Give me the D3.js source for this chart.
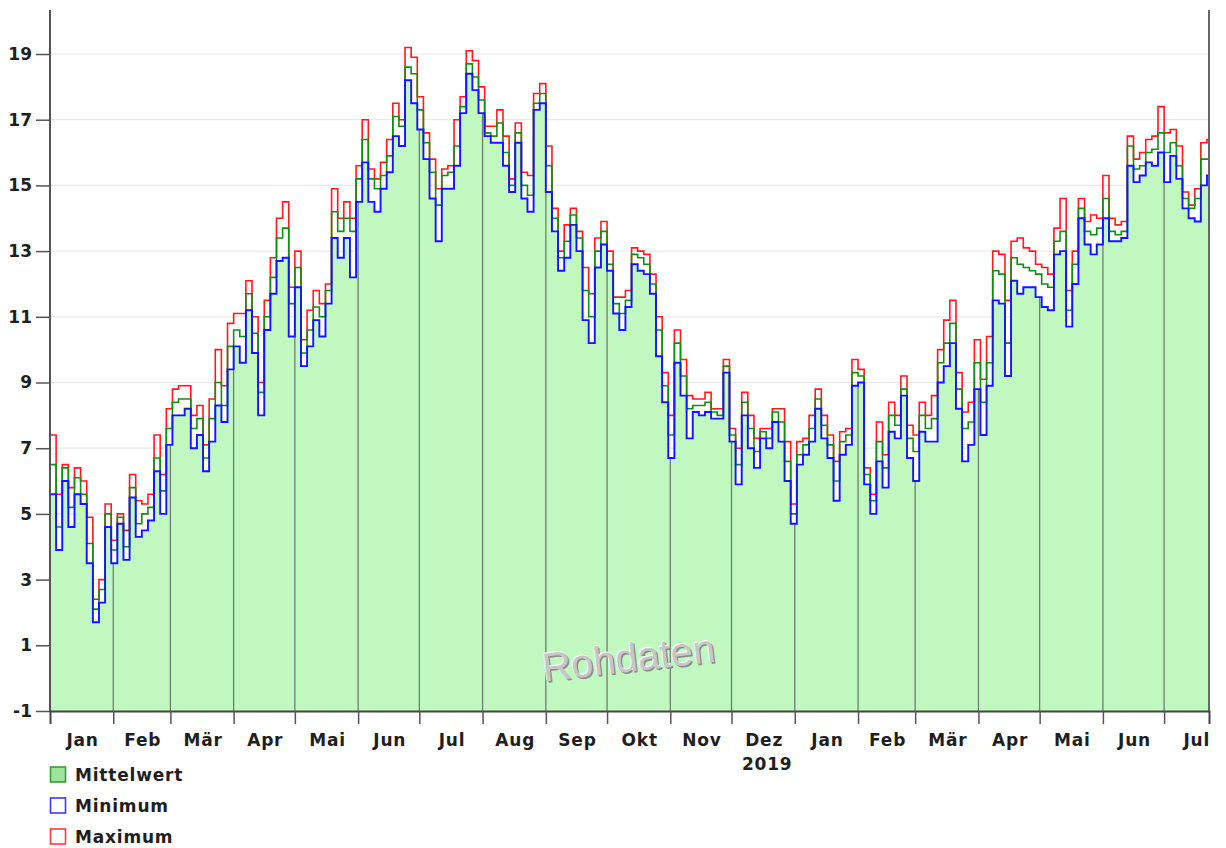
<!DOCTYPE html>
<html><head><meta charset="utf-8">
<script src="https://cdn.jsdelivr.net/npm/d3@7"></script>
<style>
html,body{margin:0;padding:0;background:#fff;}
svg{display:block;}
text{font-family:"DejaVu Sans",Verdana,sans-serif;font-weight:bold;fill:#1e1e1e;}
</style></head>
<body>
<svg id="chart" width="1226" height="848"></svg>
<script>
// ---- data (3-day steps starting 2018-01-01) ----
const startDate = "2018-01-01";
const endDate = "2019-07-23";
const stepDays = 3;
const meanVals = [
6.5,4.6,6.4,5.2,6.1,5.6,4.1,2.1,2.7,5.0,
3.9,4.9,4.0,5.8,4.7,5.0,5.2,6.7,5.7,7.6,
8.4,8.5,8.5,7.6,7.9,6.7,7.9,9.0,8.3,10.1,
10.6,10.4,11.7,10.5,8.7,11.0,12.2,13.4,13.7,11.4,
12.5,9.9,10.6,11.3,11.0,11.8,14.2,13.6,14.0,13.6,
15.2,16.4,15.2,14.9,15.3,15.9,17.1,16.8,18.6,18.4,
17.3,16.3,15.4,14.4,15.3,15.4,16.2,17.4,18.7,18.3,
17.6,16.6,16.5,16.9,16.0,15.0,16.6,15.0,14.7,17.5,
17.8,15.6,14.0,12.8,13.3,14.1,13.4,11.8,11.0,13.0,
13.6,12.6,11.4,11.1,11.5,12.9,12.8,12.6,12.0,10.6,
8.9,7.4,10.2,9.2,8.2,8.3,8.3,8.4,8.1,8.0,
9.5,7.4,6.5,8.4,7.6,6.9,7.5,7.3,8.1,7.8,
6.6,5.0,6.8,7.1,7.6,8.5,7.7,7.1,6.0,7.2,
7.4,9.3,9.2,6.2,5.4,7.2,6.4,8.0,7.7,8.8,
7.3,6.9,8.0,7.6,7.9,9.6,10.2,10.8,8.8,7.6,
7.8,9.6,8.4,9.6,12.4,12.3,10.2,12.8,12.6,12.5,
12.4,12.3,12.0,11.9,13.3,13.6,11.2,12.6,14.3,13.6,
13.5,13.7,14.6,13.6,13.5,13.6,16.2,15.5,15.6,16.0,
16.1,16.6,16.0,16.3,15.6,14.6,14.3,14.6,15.8,15.8];
const minVals = [
5.6,3.9,6.0,4.6,5.6,5.3,3.5,1.7,2.3,4.6,
3.5,4.7,3.6,5.5,4.3,4.5,4.8,6.3,5.0,7.1,
8.0,8.0,8.2,7.0,7.4,6.3,7.2,8.3,7.8,9.4,
10.1,9.6,11.2,9.9,8.0,10.6,11.7,12.7,12.8,10.4,
11.9,9.5,10.1,10.9,10.4,11.4,13.4,12.8,13.4,12.2,
14.5,15.7,14.5,14.2,14.9,15.4,16.5,16.2,18.2,17.5,
16.7,15.8,14.6,13.3,14.9,14.9,15.6,17.2,18.4,17.9,
17.2,16.5,16.3,16.3,15.6,14.8,16.3,14.6,14.2,17.3,
17.5,14.8,13.6,12.4,12.8,13.8,13.0,10.9,10.2,12.5,
13.2,12.4,11.1,10.6,11.3,12.6,12.4,12.3,11.7,9.8,
8.4,6.7,9.6,8.6,7.3,8.1,8.0,8.1,7.9,7.9,
9.3,7.2,5.9,8.0,7.0,6.4,7.3,7.0,7.8,7.2,
6.0,4.7,6.5,6.8,7.2,8.2,7.3,6.7,5.4,6.8,
7.1,8.9,9.0,5.9,5.0,6.6,5.8,7.5,7.3,8.6,
6.7,6.0,7.5,7.2,7.2,9.0,9.5,10.2,8.2,6.6,
7.1,8.8,7.4,8.9,11.5,11.4,9.2,12.1,11.7,11.9,
11.9,11.6,11.3,11.2,12.9,13.0,10.7,12.0,14.0,13.2,
12.9,13.2,14.0,13.3,13.3,13.4,15.6,15.1,15.3,15.7,
15.6,16.0,15.1,15.9,15.2,14.3,14.0,13.9,15.0,15.3];
const maxVals = [
7.4,5.6,6.5,5.8,6.4,6.0,4.9,2.4,3.0,5.3,
4.2,5.0,4.5,6.2,5.4,5.3,5.6,7.4,6.2,8.2,
8.8,8.9,8.9,8.0,8.3,7.1,8.5,10.0,8.9,10.8,
11.1,11.1,12.1,11.0,9.0,11.5,12.8,14.0,14.5,11.9,
13.0,10.3,11.2,11.8,11.4,12.0,14.9,14.0,14.5,14.0,
15.6,17.0,15.5,15.2,15.7,16.4,17.5,17.0,19.2,18.9,
17.7,16.6,15.8,14.9,15.5,15.6,17.0,17.7,19.1,18.8,
18.0,16.8,16.8,17.3,16.5,15.2,16.9,15.4,15.3,17.8,
18.1,16.2,14.3,13.0,13.8,14.3,13.6,12.5,11.7,13.4,
13.9,13.0,11.6,11.6,11.8,13.1,13.0,12.9,12.3,11.0,
9.3,8.0,10.6,9.7,8.6,8.5,8.5,8.7,8.2,8.2,
9.7,7.6,7.0,8.7,8.0,7.3,7.6,7.6,8.2,8.2,
7.2,5.3,7.2,7.3,8.0,8.8,8.0,7.4,6.6,7.5,
7.6,9.7,9.4,6.4,5.6,7.8,6.8,8.4,8.0,9.2,
7.7,7.4,8.4,8.0,8.6,10.0,10.9,11.5,9.3,8.1,
8.4,10.3,9.1,10.4,13.0,12.9,11.5,13.3,13.4,13.1,
13.0,12.6,12.5,12.3,13.7,14.6,11.8,13.0,14.6,13.9,
14.1,14.0,15.3,14.0,13.8,13.9,16.5,15.8,16.0,16.4,
16.5,17.4,16.6,16.7,16.2,14.8,14.4,14.9,16.3,16.4];
const yTicks = [-1,1,3,5,7,9,11,13,15,17,19];
const monthNames = ["Jan","Feb","Mär","Apr","Mai","Jun","Jul","Aug","Sep","Okt","Nov","Dez","Jan","Feb","Mär","Apr","Mai","Jun","Jul"];
const yearLabel = "2019";
const legendItems = [
  {name:"Mittelwert", fill:"#9fe39f", stroke:"#2fa32f"},
  {name:"Minimum", fill:"#ffffff", stroke:"#3a3aff"},
  {name:"Maximum", fill:"#ffffff", stroke:"#ff3a3a"}
];
const watermark = "Rohdaten";

// ---- layout ----
const W = 1226, H = 848;
const m = {left:50, right:17, top:10, bottom:137};
const iw = W - m.left - m.right, ih = H - m.top - m.bottom;
const svg = d3.select("#chart");

const parse = d3.utcParse("%Y-%m-%d");
const d0 = parse(startDate), d1 = parse(endDate);
const x = d3.scaleUtc().domain([d0, d1]).range([m.left, m.left + iw]);
const y = d3.scaleLinear().domain([-1, 20.34]).range([m.top + ih, m.top]);

const rows = meanVals.map((v, i) => ({
  date: d3.utcDay.offset(d0, i * stepDays), mean: v, min: minVals[i], max: maxVals[i]
}));
const last = rows[rows.length - 1];
rows.push({date: d1, mean: last.mean, min: last.min, max: last.max});

svg.append("defs").append("clipPath").attr("id","plotclip")
  .append("rect").attr("x", m.left).attr("y", m.top).attr("width", iw).attr("height", ih);

const g = svg.append("g").attr("clip-path","url(#plotclip)");

// horizontal grid
g.selectAll("line.hg").data(yTicks.filter(t => t > -1)).join("line")
  .attr("x1", m.left).attr("x2", m.left + iw)
  .attr("y1", d => y(d)).attr("y2", d => y(d))
  .attr("stroke", "#e9e9e9").attr("stroke-width", 1.2);

// area under minimum
const area = d3.area().curve(d3.curveStepAfter)
  .x(d => x(d.date)).y0(y(-1)).y1(d => y(d.min));
g.append("path").datum(rows).attr("d", area).attr("fill", "#c1f8bf");

// month boundaries clipped to area
svg.select("defs").append("clipPath").attr("id","areaclip")
  .append("path").datum(rows).attr("d", area);
const monthStarts = d3.utcMonth.range(d3.utcMonth.offset(d0, 1), d1);
g.append("g").attr("clip-path","url(#areaclip)")
  .selectAll("line").data(monthStarts).join("line")
  .attr("x1", d => x(d)).attr("x2", d => x(d))
  .attr("y1", m.top).attr("y2", m.top + ih)
  .attr("stroke", "#6f7f6f").attr("stroke-width", 1.3);

// lines
const line = key => d3.line().curve(d3.curveStepAfter).x(d => x(d.date)).y(d => y(d[key]));
g.append("path").datum(rows).attr("d", line("max")).attr("fill","none").attr("stroke","#ff1a1a").attr("stroke-width",1.6);
g.append("path").datum(rows).attr("d", line("mean")).attr("fill","none").attr("stroke","#109010").attr("stroke-width",1.6);
g.append("path").datum(rows).attr("d", line("min")).attr("fill","none").attr("stroke","#1414ff").attr("stroke-width",1.9);

// watermark
const wx = x(parse("2018-10-01")) + 23, wy = y(0.2);
const wm = (dx, dy, col) => svg.append("text")
  .attr("transform", `translate(${wx+dx},${wy+dy}) rotate(-6.5)`)
  .attr("text-anchor","middle").style("font-family","'Liberation Sans',Arial,sans-serif")
  .style("font-weight","normal").style("font-size","40px").style("fill",col).text(watermark);
wm(1.5, 1.5, "#8c8c8c");
wm(-1, -1, "#ffffff");
wm(0, 0, "#c6c6c6");

// axes frame
svg.append("line").attr("x1", m.left).attr("x2", m.left).attr("y1", m.top).attr("y2", m.top + ih)
  .attr("stroke","#555").attr("stroke-width",2);
svg.append("line").attr("x1", m.left + iw).attr("x2", m.left + iw).attr("y1", m.top).attr("y2", m.top + ih)
  .attr("stroke","#666").attr("stroke-width",2);

// y axis
const yAxis = d3.axisLeft(y).tickValues(yTicks).tickSize(14).tickPadding(4).tickFormat(d => String(d));
const ya = svg.append("g").attr("transform", `translate(${m.left},0)`).call(yAxis);
ya.select(".domain").remove();
ya.selectAll(".tick line").attr("stroke","#555").attr("stroke-width",1.5);
ya.selectAll(".tick text").style("font-size","17px").attr("fill","#1e1e1e");

// x axis
const xAxis = d3.axisBottom(x).tickValues(monthStarts).tickSize(13).tickFormat("");
const xa = svg.append("g").attr("transform", `translate(0,${m.top + ih})`).call(xAxis);
xa.select(".domain").attr("stroke","#444").attr("stroke-width",2);
xa.selectAll(".tick line").attr("stroke","#555").attr("stroke-width",1.5);

// month labels at month centres
const allMonths = d3.utcMonth.range(d0, d1);
svg.append("g").selectAll("text").data(allMonths).join("text")
  .attr("x", d => x(new Date((+d + +d3.utcMonth.offset(d,1)) / 2)) + 1)
  .attr("y", m.top + ih + 35)
  .attr("text-anchor","middle").style("font-size","17px").style("letter-spacing","0.8px")
  .text((d,i) => monthNames[i]);
const dez = allMonths[11];
svg.append("text").attr("x", x(new Date((+dez + +d3.utcMonth.offset(dez,1)) / 2)) + 4)
  .attr("y", m.top + ih + 59).attr("text-anchor","middle").style("font-size","17px").style("letter-spacing","0.8px")
  .text(yearLabel);

// legend
const lg = svg.append("g").attr("transform", `translate(${m.left},${m.top + ih + 56})`);
const li = lg.selectAll("g").data(legendItems).join("g").attr("transform", (d,i) => `translate(0,${i*31})`);
li.append("rect").attr("x",0.5).attr("y",0).attr("width",15).attr("height",15)
  .attr("fill", d => d.fill).attr("stroke", d => d.stroke).attr("stroke-width",1.6);
li.append("text").attr("x",25).attr("y",14).style("font-size","17px").style("letter-spacing","0.8px").text(d => d.name);
</script>
</body></html>
